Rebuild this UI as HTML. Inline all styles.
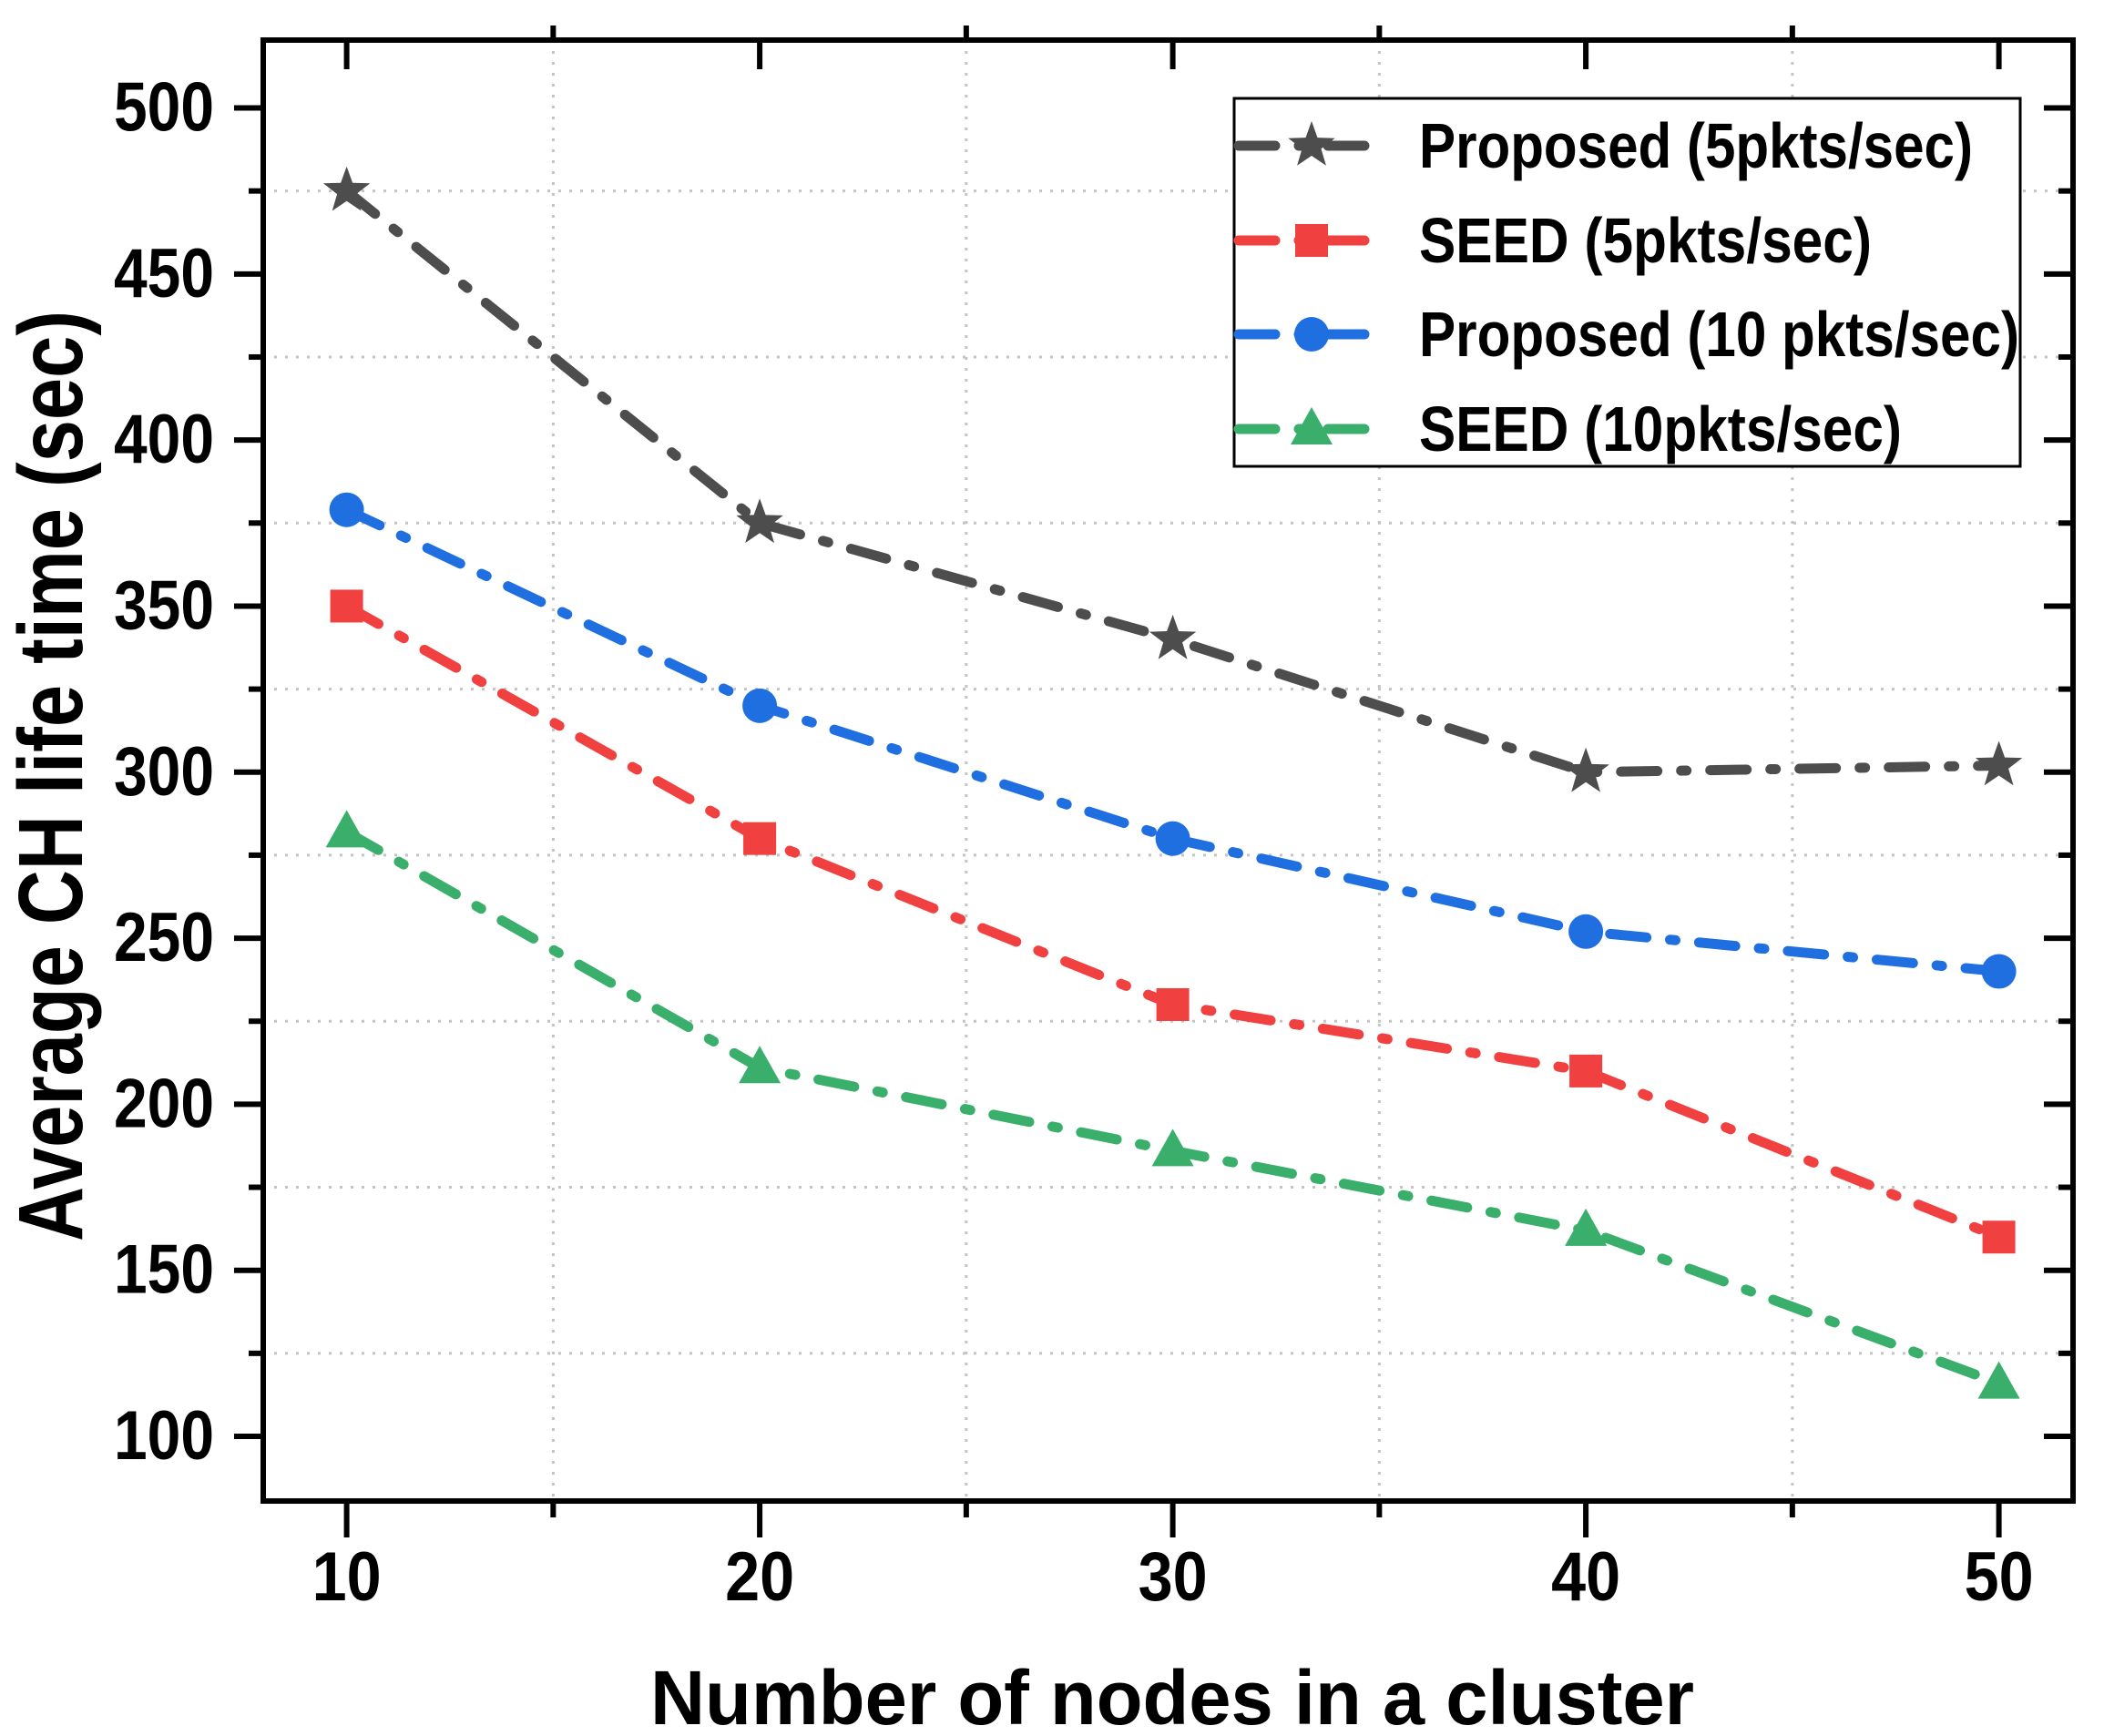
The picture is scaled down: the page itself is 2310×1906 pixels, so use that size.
<!DOCTYPE html>
<html><head><meta charset="utf-8"><style>
html,body{margin:0;padding:0;background:#fff;}
svg{display:block;font-family:"Liberation Sans",Arial,sans-serif;font-weight:bold;}
</style></head><body>
<svg id="chart" width="2310" height="1906" viewBox="0 0 2310 1906" xmlns="http://www.w3.org/2000/svg">
<g id="grid"></g>
<g id="series"></g>
<g id="axes"></g>
<text transform="translate(90,852) rotate(-90)" text-anchor="middle" font-size="100" textLength="1022" lengthAdjust="spacingAndGlyphs">Average CH life time (sec)</text>
<text x="1287" y="1893" text-anchor="middle" font-size="84" textLength="1146" lengthAdjust="spacingAndGlyphs">Number of nodes in a cluster</text>
<g id="legend"></g>
</svg>
<script>
const categories = [10, 20, 30, 40, 50];
const proposed5 = [475, 375, 340, 300, 302];
const seed5 = [350, 280, 230, 210, 160];
const proposed10 = [379, 320, 280, 252, 240];
const seed10 = [282, 211, 186, 162, 116];
const yTicks = [100, 150, 200, 250, 300, 350, 400, 450, 500];
const xTicks = [10, 20, 30, 40, 50];
const seriesNames = ["Proposed (5pkts/sec)", "SEED (5pkts/sec)", "Proposed (10 pkts/sec)", "SEED (10pkts/sec)"];

const NS = "http://www.w3.org/2000/svg";
const L = 289, T = 44, R = 2276, B = 1648;
function xs(v){ return 380.6 + (v - 10) * (2194.6 - 380.6) / 40; }
function ys(v){ return 1577 - (v - 100) * (1577 - 118.5) / 400; }
function mk(tag, attrs, parent){ const e = document.createElementNS(NS, tag); for (const k in attrs) e.setAttribute(k, attrs[k]); parent.appendChild(e); return e; }

const grid = document.getElementById('grid');
for (let v = 125; v <= 525; v += 50) {
  if (ys(v) < T) continue;
  const g = mk('line', {x1: L, x2: R, y1: ys(v), y2: ys(v), stroke: '#c4c4c4', 'stroke-width': 3, 'stroke-dasharray': '3 9'}, grid);
  
  
}
for (let v = 15; v <= 45; v += 10) {
  const g = mk('line', {x1: xs(v), x2: xs(v), y1: T, y2: B, stroke: '#c4c4c4', 'stroke-width': 3, 'stroke-dasharray': '3 9'}, grid);
  
  
}

const axes = document.getElementById('axes');
const frame = mk('rect', {x: L, y: T, width: R - L, height: B - T, fill: 'none', stroke: '#000', 'stroke-width': 6}, axes);


yTicks.forEach(v => {
  const y = ys(v);
  mk('line', {x1: L - 32, x2: L, y1: y, y2: y, stroke: '#000', 'stroke-width': 6}, axes);
  mk('line', {x1: R - 32, x2: R, y1: y, y2: y, stroke: '#000', 'stroke-width': 6}, axes);
  const t = mk('text', {x: 235, y: y + 25, 'text-anchor': 'end', 'font-size': 76, textLength: 110, lengthAdjust: 'spacingAndGlyphs'}, axes);
  t.textContent = v;
  
  
});
for (let v = 125; v <= 475; v += 50) {
  const y = ys(v);
  mk('line', {x1: L - 16, x2: L, y1: y, y2: y, stroke: '#000', 'stroke-width': 6}, axes);
  mk('line', {x1: R - 16, x2: R, y1: y, y2: y, stroke: '#000', 'stroke-width': 6}, axes);
}
xTicks.forEach(v => {
  const x = xs(v);
  mk('line', {x1: x, x2: x, y1: B, y2: B + 40, stroke: '#000', 'stroke-width': 6}, axes);
  mk('line', {x1: x, x2: x, y1: T, y2: T + 32, stroke: '#000', 'stroke-width': 6}, axes);
  const t = mk('text', {x: x, y: 1757, 'text-anchor': 'middle', 'font-size': 76, textLength: 76, lengthAdjust: 'spacingAndGlyphs'}, axes);
  t.textContent = v;
  
  
});
for (let v = 5; v <= 55; v += 10) {
  const x = xs(v);
  if (x < L || x > R) continue;
  mk('line', {x1: x, x2: x, y1: B, y2: B + 18, stroke: '#000', 'stroke-width': 6}, axes);
  mk('line', {x1: x, x2: x, y1: T - 16, y2: T, stroke: '#000', 'stroke-width': 6}, axes);
}

const colors = ['#4d4d4d', '#f04040', '#1f6fe0', '#3aaf6b'];
const shapes = ['star', 'square', 'circle', 'triangle'];
const allSeries = [proposed5, seed5, proposed10, seed10];
const dash = '40 26 6 26';

function marker(shape, cx, cy, color, parent){
  let e;
  if (shape === 'star') {
    let pts = [];
    for (let i = 0; i < 10; i++) {
      const r = i % 2 === 0 ? 27 : 11;
      const a = -Math.PI / 2 + i * Math.PI / 5;
      pts.push((cx + r * Math.cos(a)).toFixed(1) + ',' + (cy + r * Math.sin(a)).toFixed(1));
    }
    e = mk('polygon', {points: pts.join(' '), fill: color}, parent);
  } else if (shape === 'square') {
    e = mk('rect', {x: cx - 18, y: cy - 18, width: 36, height: 36, fill: color}, parent);
  } else if (shape === 'circle') {
    e = mk('circle', {cx: cx, cy: cy, r: 19, fill: color}, parent);
  } else {
    e = mk('polygon', {points: `${cx},${cy - 24} ${cx - 23},${cy + 17} ${cx + 23},${cy + 17}`, fill: color}, parent);
  }
  return e;
}

const sg = document.getElementById('series');
allSeries.forEach((data, si) => {
  const pts = data.map((v, i) => xs(categories[i]).toFixed(1) + ',' + ys(v).toFixed(1)).join(' ');
  const pl = mk('polyline', {points: pts, fill: 'none', stroke: colors[si], 'stroke-width': 11, 'stroke-dasharray': dash, 'stroke-linecap': 'round', 'stroke-linejoin': 'round'}, sg);
  
  
  data.forEach((v, i) => {
    const m = marker(shapes[si], xs(categories[i]), ys(v), colors[si], sg);
    
    
  });
});

const lg = document.getElementById('legend');
const box = mk('rect', {x: 1355, y: 108, width: 863, height: 404, fill: '#fff', stroke: '#000', 'stroke-width': 3}, lg);


const legendWidths = [608, 497, 659, 530];
const rowsY = [160, 264, 367, 471];
seriesNames.forEach((name, si) => {
  const y = rowsY[si];
  const g = mk('g', {}, lg);
  
  
  mk('line', {x1: 1360, x2: 1516, y1: y, y2: y, stroke: colors[si], 'stroke-width': 11, 'stroke-dasharray': '40 26 6 26', 'stroke-linecap': 'round'}, g);
  marker(shapes[si], 1440, y, colors[si], g);
  const t = mk('text', {x: 1558, y: y + 24, 'font-size': 70, textLength: legendWidths[si], lengthAdjust: 'spacingAndGlyphs'}, g);
  t.textContent = name;
  
  
});
</script>
</body></html>
